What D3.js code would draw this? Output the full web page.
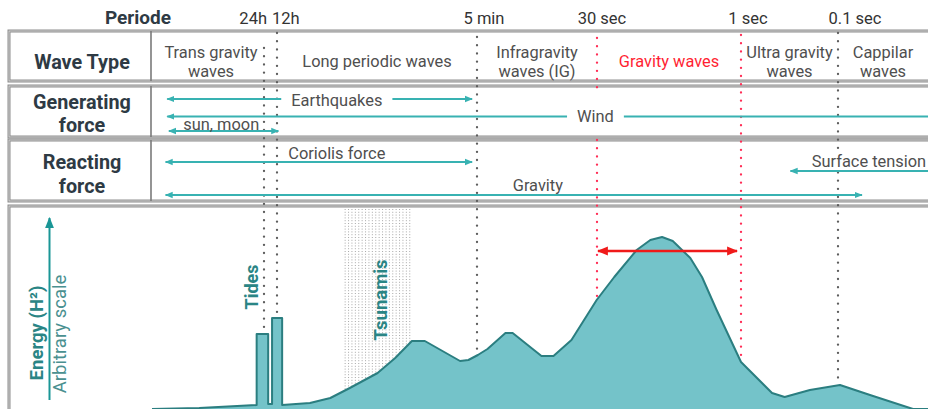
<!DOCTYPE html>
<html><head><meta charset="utf-8">
<script src="https://cdn.jsdelivr.net/npm/d3@7"></script>
<style>body{margin:0;background:#fff}svg{display:block;font-family:Roboto,"Liberation Sans",Arial,sans-serif}</style>
</head><body><svg id="c" width="928" height="409"></svg>
<script>
// ---------- data ----------
const periodLabels = ["24h", "12h", "5 min", "30 sec", "1 sec", "0.1 sec"];
const periodSeconds = [86400, 43200, 300, 30, 1, 0.1];
const periodIsRed = [false, false, false, true, true, false];
const periodLineEndEnergy = [37.5, 45.5, 27, 54.5, 23.5, 12];

const waveTypeNames = [["Trans gravity", "waves"], ["Long periodic waves"], ["Infragravity", "waves (IG)"], ["Gravity waves"], ["Ultra gravity", "waves"], ["Cappilar", "waves"]];
const waveTypeFrom = [null, 43200, 300, 30, 1, 0.1];
const waveTypeTo = [86400, 300, 30, 1, 0.1, null];

const generatingForces = ["Earthquakes", "Wind", "sun, moon"];
const generatingFromLog = [5.51, 5.51, 5.50];
const generatingToLog = [2.53, -1.95, 4.62];
const generatingLabelLog = [3.99, 1.49, 5.19];
const generatingBothEnds = [true, false, true];

const reactingForces = ["Coriolis force", "Surface tension", "Gravity"];
const reactingFromLog = [5.52, -0.51, 5.52];
const reactingToLog = [2.53, -1.95, -1.24];
const reactingLabelLog = [3.99, -0.73, 1.97];
const reactingBothEnds = [true, false, true];

// energy spectrum (log10 of period in s, energy on arbitrary 0-100 scale)
const spectrumLogPeriod = [5.6, 5.32, 4.98, 4.98, 4.84, 4.84, 4.75, 4.75, 4.58, 4.58, 4.28, 4.06, 3.85, 3.55, 3.36, 3.18, 3.04, 2.66, 2.57, 2.47, 2.39, 2.24, 2.18, 1.94, 1.84, 1.69, 1.48, 1.30, 1.07, 0.93, 0.81, 0.70, 0.52, 0.40, 0.25, 0.0, -0.32, -0.45, -0.71, -1.02, -1.32, -1.75, -1.9];
const spectrumEnergy = [0, 0.5, 2, 37.5, 37.5, 2.5, 2.5, 45.5, 45.5, 2, 3, 5.5, 10.5, 18, 25.5, 34, 34, 24, 24.5, 27, 30, 38, 38, 26.5, 26.5, 34.5, 54.5, 66, 79.5, 84.5, 86, 84, 75.5, 66, 49.5, 23.5, 8, 6, 9.5, 12, 7, 0, 0];
const tsunamiBandLog = [3.90, 3.18];
const gravityArrowEnergy = 79;

// ---------- layout ----------
const svg = d3.select("#c");
const edgeL = 5.6, edgeR = -1.9;
const x = d3.scaleLinear()
  .domain([edgeL, ...periodSeconds.map(Math.log10), edgeR])
  .range([152, 264, 277, 477, 597, 741, 838, 928]);
const xs = s => x(Math.log10(s));
const y = d3.scaleLinear().domain([0, 100]).range([409, 209]);

const TEAL = "#38b2b2", DARKTEAL = "#2a8585", RED = "#f01a1a", DOTRED = "#ff2d55";
const TXT = "#4f4f4f", LBL = "#2e3a44";

const defs = svg.append("defs");
function marker(id, color, size) {
  defs.append("marker").attr("id", id).attr("viewBox", "0 0 10 10")
    .attr("refX", 9).attr("refY", 5).attr("markerWidth", size).attr("markerHeight", size)
    .attr("markerUnits", "userSpaceOnUse").attr("orient", "auto-start-reverse")
    .append("path").attr("d", "M0,1 L10,5 L0,9 Z").attr("fill", color);
}
marker("mt", TEAL, 8);
marker("mr", RED, 11);
marker("ma", "#1a9696", 11);

// rows
const rows = [{t: 31, b: 81}, {t: 86, b: 137}, {t: 140, b: 201}, {t: 206, b: 440}];
rows.forEach((r, i) => {
  svg.append("rect").attr("x", 9).attr("y", r.t).attr("width", 980).attr("height", r.b - r.t)
    .attr("fill", "none").attr("stroke", "#8e8e8e").attr("stroke-width", 3);
  svg.append("rect").attr("x", 9).attr("y", r.t).attr("width", 980).attr("height", r.b - r.t)
    .attr("fill", "none").attr("stroke", "#dedede").attr("stroke-width", 0.8);
  if (i < 3) svg.append("line").attr("x1", 151).attr("x2", 151).attr("y1", r.t).attr("y2", r.b)
    .attr("stroke", "#7a7a7a").attr("stroke-width", 1.6);
});

// tsunami hatch
const tx0 = x(tsunamiBandLog[0]), tx1 = x(tsunamiBandLog[1]);
svg.append("g").selectAll("line").data(d3.range(tx0, tx1 + 0.1, 3.4)).join("line")
  .attr("x1", d => d).attr("x2", d => d).attr("y1", 209).attr("y2", 405)
  .attr("stroke", "#a8a8a8").attr("stroke-width", 1).attr("stroke-dasharray", "1,1.8");

// spectrum
const pts = spectrumLogPeriod.map((p, i) => [p, spectrumEnergy[i]]);
svg.append("path").datum(pts)
  .attr("d", d3.area().x(d => x(d[0])).y0(y(0) + 2).y1(d => y(d[1])))
  .attr("fill", "#74c3c9");
svg.append("path").datum(pts)
  .attr("d", d3.line().x(d => x(d[0])).y(d => y(d[1])))
  .attr("fill", "none").attr("stroke", "#2b7e80").attr("stroke-width", 2).attr("stroke-linejoin", "round");

// period dotted lines
const periodSegTop = [48, 33, 37, 38, 35, 33];
periodSeconds.forEach((s, i) => {
  const px = xs(s);
  const segs = (i === 3) ? [[periodSegTop[i], 92], [140, y(periodLineEndEnergy[i])]] : [[periodSegTop[i], y(periodLineEndEnergy[i])]];
  segs.forEach(sg => svg.append("line").attr("x1", px).attr("x2", px).attr("y1", sg[0]).attr("y2", sg[1])
    .attr("stroke", periodIsRed[i] ? DOTRED : "#5d5d5d").attr("stroke-width", 2.3)
    .attr("stroke-linecap", "round").attr("stroke-dasharray", "0.1,8.1"));
});

// header
svg.append("text").attr("x", 138).attr("y", 24).attr("text-anchor", "middle")
  .attr("font-size", 19).attr("font-weight", "bold").attr("fill", LBL).text("Periode");
const periodDx = [3, -5, 7, 5, 7, 17];
const periodAnchor = ["end", "start", "middle", "middle", "middle", "middle"];
svg.append("g").selectAll("text").data(periodLabels).join("text")
  .attr("x", (d, i) => xs(periodSeconds[i]) + periodDx[i]).attr("y", 24)
  .attr("text-anchor", (d, i) => periodAnchor[i]).attr("font-size", 16.5).attr("fill", "#333").text(d => d);

// left labels
const leftLabels = [["Wave Type", 69], ["Generating", 109], ["force", 132], ["Reacting", 169], ["force", 193]];
leftLabels.forEach(l => svg.append("text").attr("x", 82).attr("y", l[1]).attr("text-anchor", "middle")
  .attr("font-size", 19.8).attr("font-weight", "bold").attr("fill", LBL).text(l[0]));

// wave types
waveTypeNames.forEach((lines, i) => {
  const a = waveTypeFrom[i] === null ? x(edgeL) : xs(waveTypeFrom[i]);
  const b = waveTypeTo[i] === null ? x(edgeR) : xs(waveTypeTo[i]);
  const cx = (a + b) / 2 + (i === 0 ? 3 : 0);
  const isRed = lines[0] === "Gravity waves";
  const ys = lines.length === 2 ? [58, 77] : [67];
  lines.forEach((t, j) => svg.append("text").attr("x", cx).attr("y", ys[j]).attr("text-anchor", "middle")
    .attr("font-size", 16.4).attr("fill", isRed ? "#ff1f33" : TXT).text(t));
});

// force arrows
function arrowRow(names, fromL, toL, labL, both, lineY, textY, withBg, anchors) {
  names.forEach((n, i) => {
    const l = svg.append("line").attr("x1", x(fromL[i])).attr("x2", x(toL[i]))
      .attr("y1", lineY[i]).attr("y2", lineY[i]).attr("stroke", TEAL).attr("stroke-width", 2)
      .attr("marker-start", "url(#mt)");
    if (both[i]) l.attr("marker-end", "url(#mt)");
  });
  names.forEach((n, i) => {
    const t = svg.append("text").attr("x", x(labL[i])).attr("y", textY[i])
      .attr("text-anchor", anchors[i]).attr("font-size", 16.4).attr("fill", TXT).text(n);
    if (withBg[i]) {
      const bb = t.node().getBBox();
      svg.insert("rect", () => t.node()).attr("x", bb.x - 10).attr("y", bb.y + 1)
        .attr("width", bb.width + 20).attr("height", bb.height - 2).attr("fill", "#fff");
    }
  });
}
arrowRow(generatingForces, generatingFromLog, generatingToLog, generatingLabelLog, generatingBothEnds,
  [99, 116.5, 131], [106, 122, 130], [true, true, false], ["middle", "middle", "middle"]);
arrowRow(reactingForces, reactingFromLog, reactingToLog, reactingLabelLog, reactingBothEnds,
  [162, 171, 195], [159, 167, 191], [false, true, false], ["middle", "start", "middle"]);

// gravity waves range arrow
svg.append("line").attr("x1", xs(30) + 1).attr("x2", xs(1) - 4)
  .attr("y1", y(gravityArrowEnergy)).attr("y2", y(gravityArrowEnergy))
  .attr("stroke", RED).attr("stroke-width", 2.5)
  .attr("marker-start", "url(#mr)").attr("marker-end", "url(#mr)");

// energy axis
svg.append("line").attr("x1", 49.5).attr("x2", 49.5).attr("y1", 400).attr("y2", 218)
  .attr("stroke", "#1a9696").attr("stroke-width", 2).attr("marker-end", "url(#ma)");
svg.append("text").attr("transform", "translate(37,333) rotate(-90)").attr("text-anchor", "middle")
  .attr("dominant-baseline", "central").attr("font-size", 18.5).attr("font-weight", "bold")
  .attr("fill", DARKTEAL).text("Energy (H²)");
svg.append("text").attr("transform", "translate(60,334) rotate(-90)").attr("text-anchor", "middle")
  .attr("dominant-baseline", "central").attr("font-size", 18.5)
  .attr("fill", "#4a9090").text("Arbitrary scale");

// rotated labels
svg.append("text").attr("transform", "translate(251,287) rotate(-90)").attr("text-anchor", "middle")
  .attr("dominant-baseline", "central").attr("font-size", 18).attr("font-weight", "bold")
  .attr("fill", DARKTEAL).text("Tides");
svg.append("text").attr("transform", `translate(${(tx0 + tx1) / 2 + 2},300) rotate(-90)`).attr("text-anchor", "middle")
  .attr("dominant-baseline", "central").attr("font-size", 18.5).attr("font-weight", "bold")
  .attr("fill", DARKTEAL).text("Tsunamis");
</script></body></html>
